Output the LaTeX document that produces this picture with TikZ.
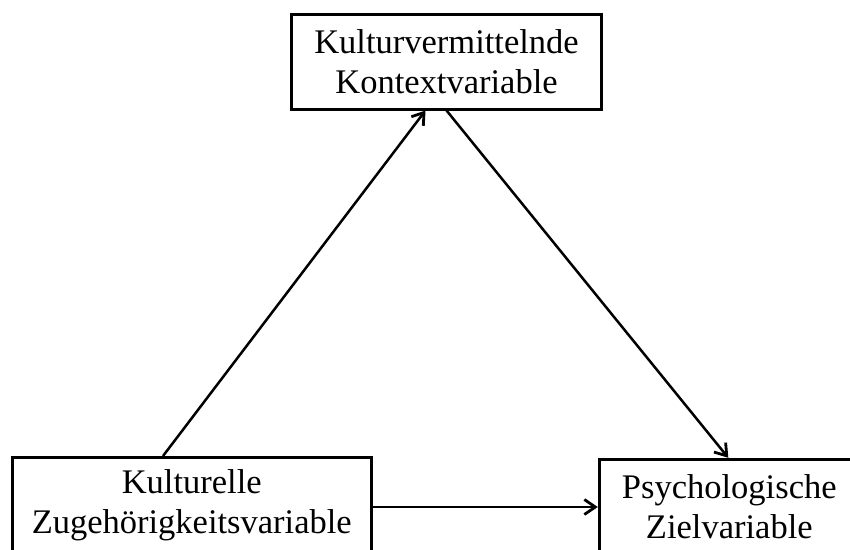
\documentclass[tikz,border=0pt]{standalone}
\usepackage{fontspec}
\setmainfont{Liberation Serif}
\usetikzlibrary{arrows.meta}

\tikzset{
  varbox/.style={draw=black, line width=3pt, fill=white, inner sep=0pt,
    align=center, font=\fontsize{34.5}{40.5}\selectfont},
  link/.style={line width=2.5pt, -{Straight Barb[length=11pt,width=15pt,line width=2.8pt]}}
}

\begin{document}
\begin{tikzpicture}[x=1pt,y=-1pt]
  \useasboundingbox (0,0) rectangle (850,549);
  \clip (0,0) rectangle (850,549);

  % the three variables
  \node[varbox, minimum width=310pt, minimum height=95pt] (kk) at (446.5,61.5)
    {Kulturvermittelnde\\Kontextvariable};
  \node[varbox, minimum width=358.5pt, minimum height=95pt] (kz) at (191.75,505)
    {Kulturelle\\Zugehörigkeitsvariable};
  \node[varbox, minimum width=260pt, minimum height=95pt] (pz) at (729.3,506.8)
    {Psychologische\\Zielvariable};

  % paths between them
  \draw[link] ([xshift=152pt]kz.north west) -- ([xshift=135.5pt]kk.south west);
  \draw[link] ([xshift=0pt]kk.south) -- ([xshift=-1pt]pz.north);
  \draw[link] ([yshift=-2pt]kz.east) -- ([yshift=-2pt]kz.east -| pz.west);
\end{tikzpicture}
\end{document}
